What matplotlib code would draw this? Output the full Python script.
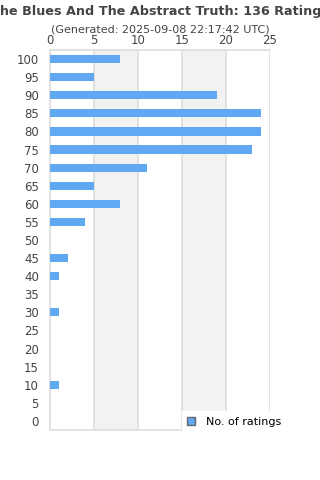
import numpy as np
import matplotlib
matplotlib.use("Agg")
import matplotlib.pyplot as plt
from matplotlib.patches import Patch

ratings = [100, 95, 90, 85, 80, 75, 70, 65, 60, 55, 50, 45, 40, 35, 30, 25, 20, 15, 10, 5, 0]
counts = [8, 5, 19, 24, 24, 23, 11, 5, 8, 4, 0, 2, 1, 0, 1, 0, 0, 0, 1, 0, 0]
xticks = [0, 5, 10, 15, 20, 25]

title = "The Blues And The Abstract Truth: 136 Ratings"
subtitle = "(Generated: 2025-09-08 22:17:42 UTC)"

bar_color = "#60a8f2"
grid_color = "#dddddd"
text_color = "#444444"

fig = plt.figure(figsize=(3.2, 4.8), dpi=100)
ax = fig.add_axes([50 / 320, 1 - 430 / 480, 220 / 320, 380 / 480])

y = np.arange(len(ratings))
ax.barh(y, counts, height=0.45, color=bar_color, zorder=3)
ax.set_ylim(len(ratings) - 0.5, -0.5)
ax.set_xlim(0, 25)

# alternating bands
for i in range(len(xticks) - 1):
    if i % 2 == 1:
        ax.axvspan(xticks[i], xticks[i + 1], color="#f2f2f2", zorder=0, lw=0)
for t in xticks[1:]:
    ax.axvline(t, color=grid_color, lw=1.2, zorder=1)

ax.set_yticks(y)
ax.set_yticklabels([str(r) for r in ratings])
ax.set_xticks(xticks)
ax.xaxis.tick_top()
ax.tick_params(axis="both", length=0, labelsize=8.5, colors=text_color)
ax.tick_params(axis="y", pad=8)
ax.tick_params(axis="x", pad=2.5)

for s in ["left", "top", "bottom", "right"]:
    ax.spines[s].set_color(grid_color)
    ax.spines[s].set_linewidth(1.2)
ax.spines["right"].set_visible(False)

fig.text(0.5, 1 - 12 / 480, title, ha="center", va="center", fontsize=9.2,
         fontweight="bold", color=text_color)
fig.text(0.5, 1 - 30 / 480, subtitle, ha="center", va="center", fontsize=8,
         color=text_color)

handle = Patch(facecolor=bar_color, edgecolor="#666666", linewidth=1)
leg = fig.legend([handle], ["No. of ratings"], loc="lower left",
                 bbox_to_anchor=(176 / 320, 1 - 438 / 480), frameon=True,
                 fontsize=8, handlelength=0.7, handleheight=0.7,
                 borderpad=0.5, handletextpad=1.0, fancybox=False)
leg.get_frame().set_facecolor("white")
leg.get_frame().set_edgecolor("white")
leg.get_frame().set_alpha(1)
leg.set_zorder(10)

fig.savefig("out.png", dpi=100)
